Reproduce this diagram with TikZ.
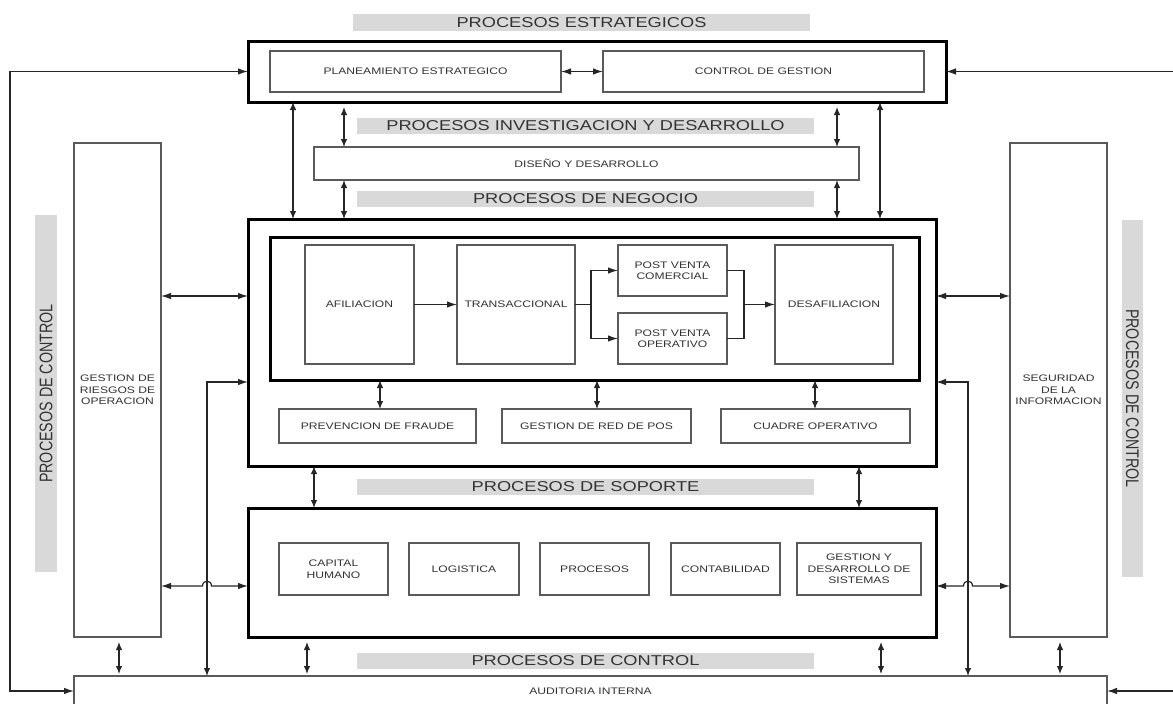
\documentclass[tikz,border=0pt]{standalone}
\usepackage{fontspec}
\usepackage{graphicx}
\setmainfont{Liberation Sans}[FakeStretch=1.275]
\newfontfamily\uprightsans{Liberation Sans}
\usetikzlibrary{arrows.meta}
\definecolor{barfill}{HTML}{D9D9D9}
\definecolor{inktext}{HTML}{333333}
\definecolor{thinline}{HTML}{5A5A5A}
\newcommand\lblfont{\fontsize{9.5}{11.5}\selectfont}
\newcommand\hdrfont{\fontsize{14.3}{16}\selectfont}
\begin{document}
\begin{tikzpicture}[x=1pt,y=-1pt,
  VT/.tip={Latex[length=8pt,width=6.5pt]},
  HT/.tip={Latex[length=10pt,width=6.5pt]},
  box/.style={draw=thinline, line width=1.2pt, inner sep=0pt, outer sep=0pt,
    align=center, text=inktext, font=\lblfont},
  frame/.style={draw=black, line width=3pt, inner sep=0pt, outer sep=0pt},
  bar/.style={fill=barfill, inner sep=0pt, outer sep=0pt, text=inktext, font=\hdrfont},
  link/.style={draw=black!85, line width=1.2pt}]

\useasboundingbox (0,0) rectangle (1173,704);
\fill[white] (0,0) rectangle (1173,704);

% ---------- section headers ----------
\node[bar, minimum width=457pt, minimum height=17pt] (hdrEst) at (581.5,22.5) {PROCESOS ESTRATEGICOS};
\node[bar, minimum width=457pt, minimum height=16pt] (hdrID) at (585.5,126) {PROCESOS INVESTIGACION Y DESARROLLO};
\node[bar, minimum width=457pt, minimum height=16pt] (hdrNeg) at (585.5,199) {PROCESOS DE NEGOCIO};
\node[bar, minimum width=457pt, minimum height=16pt] (hdrSop) at (585.5,487) {PROCESOS DE SOPORTE};
\node[bar, minimum width=457pt, minimum height=16pt] (hdrCtl) at (585.5,661) {PROCESOS DE CONTROL};
\node[bar, rotate=90, minimum width=357pt, minimum height=22pt] (ctlLeft) at (46,393.5)
  {\scalebox{1}[1.275]{\uprightsans\hdrfont PROCESOS DE CONTROL}};
\node[bar, rotate=-90, minimum width=357pt, minimum height=21pt] (ctlRight) at (1132.5,398.5)
  {\scalebox{1}[1.275]{\uprightsans\hdrfont PROCESOS DE CONTROL}};

% ---------- strategic processes ----------
\node[frame, minimum width=698pt, minimum height=61pt] (estBox) at (597,71.5) {};
\node[box, minimum width=291pt, minimum height=41pt] (planBox) at (415.5,71.5) {PLANEAMIENTO ESTRATEGICO};
\node[box, minimum width=321pt, minimum height=41pt] (ctrlGBox) at (763.5,71.5) {CONTROL DE GESTION};

% ---------- research and development ----------
\node[box, minimum width=545pt, minimum height=33pt] (disBox) at (586.5,163.5) {DISEÑO Y DESARROLLO};

% ---------- business processes ----------
\node[frame, minimum width=688pt, minimum height=247pt] (negBox) at (592,342.5) {};
\node[frame, minimum width=649pt, minimum height=143pt] (innerBox) at (594.5,308.5) {};
\node[box, minimum width=109pt, minimum height=119pt] (afiBox) at (359.5,304.5) {AFILIACION};
\node[box, minimum width=118pt, minimum height=119pt] (traBox) at (516,304.5) {TRANSACCIONAL};
\node[box, minimum width=109pt, minimum height=51pt] (pvcBox) at (672.5,270.5) {POST VENTA\\COMERCIAL};
\node[box, minimum width=109pt, minimum height=51pt] (pvoBox) at (672.5,338.5) {POST VENTA\\OPERATIVO};
\node[box, minimum width=118pt, minimum height=119pt] (desBox) at (834,304.5) {DESAFILIACION};
\node[box, minimum width=197pt, minimum height=34pt] (prevBox) at (377.5,426) {PREVENCION DE FRAUDE};
\node[box, minimum width=189pt, minimum height=34pt] (redBox) at (596.5,426) {GESTION DE RED DE POS};
\node[box, minimum width=189pt, minimum height=34pt] (cuadBox) at (815.5,426) {CUADRE OPERATIVO};

% ---------- support processes ----------
\node[frame, minimum width=688pt, minimum height=129pt] (sopBox) at (592,572.5) {};
\node[box, minimum width=109pt, minimum height=52pt] (capBox) at (333.5,569) {CAPITAL\\HUMANO};
\node[box, minimum width=110pt, minimum height=52pt] (logBox) at (464,569) {LOGISTICA};
\node[box, minimum width=109pt, minimum height=52pt] (proBox) at (594.5,569) {PROCESOS};
\node[box, minimum width=109pt, minimum height=52pt] (contBox) at (725.5,569) {CONTABILIDAD};
\node[box, minimum width=124pt, minimum height=52pt] (sisBox) at (859,569) {GESTION Y\\DESARROLLO DE\\SISTEMAS};

% ---------- control processes ----------
\node[box, minimum width=87pt, minimum height=494pt] (riesBox) at (117.5,390) {GESTION DE\\RIESGOS DE\\OPERACION};
\node[box, minimum width=97pt, minimum height=494pt] (segBox) at (1058.5,390) {SEGURIDAD\\DE LA\\INFORMACION};
\node[box, minimum width=1033pt, minimum height=30pt] (audBox) at (590.5,691) {AUDITORIA INTERNA};

% ---------- connectors ----------
% strategic <-> business and development
\draw[link, VT-VT] (estBox.south -| 293,0) -- (negBox.north -| 293,0);
\draw[link, VT-VT] (estBox.south -| 880,0) -- (negBox.north -| 880,0);
\draw[link, VT-VT, shorten <=5pt] (estBox.south -| 344,0) -- (disBox.north -| 344,0);
\draw[link, VT-VT, shorten <=5pt] (estBox.south -| 837,0) -- (disBox.north -| 837,0);
\draw[link, VT-VT] (disBox.south -| 344,0) -- (negBox.north -| 344,0);
\draw[link, VT-VT] (disBox.south -| 837,0) -- (negBox.north -| 837,0);
\draw[link, HT-HT] (planBox.east) -- (ctrlGBox.west);

% outer feedback loop and incoming lines
\coordinate (loopTop) at (10,71.5);
\coordinate (loopBot) at (10,691);
\draw[link, HT-HT] (estBox.west) -- (loopTop) -- (loopBot) -- (audBox.west);
\coordinate (rTop) at (1176,71.5);
\coordinate (rBot) at (1176,691);
\draw[link, -HT] (rTop) -- (estBox.east);
\draw[link, -HT] (rBot) -- (audBox.east);

% business chain
\draw[link, -HT] (afiBox.east) -- (traBox.west);
\coordinate (fork) at (591,304.5);
\draw[link] (traBox.east) -- (fork);
\draw[link, -HT] (fork) |- (pvcBox.west);
\draw[link, -HT] (fork) |- (pvoBox.west);
\coordinate (merge) at (744,304.5);
\draw[link] (pvcBox.east) -| (merge);
\draw[link] (pvoBox.east) -| (merge);
\draw[link, -HT] (merge) -- (desBox.west);

% business core <-> lower services
\draw[link, VT-VT] (innerBox.south -| 380,0) -- (prevBox.north -| 380,0);
\draw[link, VT-VT] (innerBox.south -| 597,0) -- (redBox.north -| 597,0);
\draw[link, VT-VT] (innerBox.south -| 815,0) -- (cuadBox.north -| 815,0);

% side control boxes <-> business
\draw[link, HT-HT] (riesBox.east |- 0,296) -- (negBox.west |- 0,296);
\draw[link, HT-HT] (negBox.east |- 0,296) -- (segBox.west |- 0,296);

% risers from the audit box into business
\coordinate (lRise) at (207,382);
\draw[link, VT-HT] (audBox.north -| lRise) -- (lRise) -- (negBox.west |- lRise);
\coordinate (rRise) at (968,382);
\draw[link, VT-HT] (audBox.north -| rRise) -- (rRise) -- (negBox.east |- rRise);

% side control boxes <-> support, hopping over the risers
\draw[link, HT-HT] (riesBox.east |- 0,586) -- (202.5,586)
  .. controls (202.5,579.5) and (211.5,579.5) .. (211.5,586) -- (sopBox.west |- 0,586);
\draw[link, HT-HT] (sopBox.east |- 0,586) -- (963.5,586)
  .. controls (963.5,579.5) and (972.5,579.5) .. (972.5,586) -- (segBox.west |- 0,586);

% business <-> support
\draw[link, VT-VT] (negBox.south -| 314,0) -- (sopBox.north -| 314,0);
\draw[link, VT-VT] (negBox.south -| 859,0) -- (sopBox.north -| 859,0);

% everything <-> internal audit
\draw[link, VT-VT, shorten <=5pt, shorten >=2pt] (riesBox.south -| 119,0) -- (audBox.north -| 119,0);
\draw[link, VT-VT, shorten <=5pt, shorten >=2pt] (sopBox.south -| 307,0) -- (audBox.north -| 307,0);
\draw[link, VT-VT, shorten <=5pt, shorten >=2pt] (sopBox.south -| 881,0) -- (audBox.north -| 881,0);
\draw[link, VT-VT, shorten <=5pt, shorten >=2pt] (segBox.south -| 1060,0) -- (audBox.north -| 1060,0);

\end{tikzpicture}
\end{document}
